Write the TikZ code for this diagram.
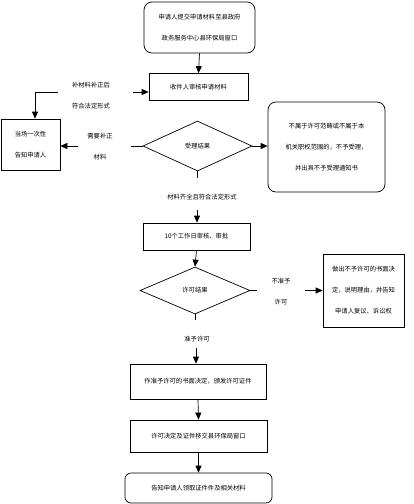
\documentclass[tikz,border=0pt]{standalone}
\usepackage{fontspec}
\newfontfamily\cjk{Noto Sans CJK SC}
\usetikzlibrary{shapes.geometric,arrows.meta}
\tikzset{
  box/.style={draw, line width=0.7pt, inner sep=0pt, align=center, font=\cjk\fontsize{6.3}{21}\selectfont},
  rbox/.style={box, rounded corners=8pt},
  dia/.style={box, diamond, aspect=2.2},
  lab/.style={inner sep=0pt, align=center, font=\cjk\fontsize{6.3}{21}\selectfont},
  conn/.style={line width=0.7pt},
  arr/.style={line width=0.7pt, -{Triangle[length=7pt,width=6pt]}}
}
\begin{document}
\begin{tikzpicture}[x=1pt,y=-1pt]
\useasboundingbox (0,0) rectangle (414,504);
\node[rbox, minimum width=111pt, minimum height=51pt] (n1) at (199.5,27.5) {申请人提交申请材料至县政府\\政务服务中心县环保局窗口};
\node[box, minimum width=99pt, minimum height=27pt] (n2) at (198.5,87) {收件人审核申请材料};
\node[dia, minimum width=109pt, minimum height=50pt] (d1) at (197.5,146) {受理结果};
\node[box, minimum width=59pt, minimum height=51pt] (nt) at (30.5,144.5) {当场一次性\\告知申请人};
\node[rbox, minimum width=117pt, minimum height=90pt] (r1) at (326.5,147) {不属于许可范畴或不属于本\\机关职权范围的，不予受理，\\并出具不予受理通知书};
\node[box, minimum width=107pt, minimum height=27pt] (b3) at (196.5,236.5) {10个工作日审核、审批};
\node[dia, minimum width=110pt, minimum height=47pt] (d2) at (195,290.5) {许可结果};
\node[box, minimum width=81pt, minimum height=73pt] (r2) at (363.5,290.5) {做出不予许可的书面决\\定，说明理由，并告知\\申请人复议、诉讼权};
\node[box, minimum width=136pt, minimum height=35pt] (b4) at (198,381.5) {作准予许可的书面决定，颁发许可证件};
\node[box, minimum width=137pt, minimum height=32pt] (b5) at (198.5,436) {许可决定及证件移交县环保局窗口};
\node[rbox, rounded corners=6pt, minimum width=147pt, minimum height=30pt] (b6) at (198.5,488) {告知申请人领取证件件及相关材料};

\node[lab] (l1) at (91,96) {补材料补正后\\符合法定形式};
\node[lab] (l2) at (100,146.5) {需要补正\\材料};
\node[lab] (l3) at (202,197) {材料齐全且符合法定形式};
\node[lab] (l4) at (281,292) {不准予\\许可};
\node[lab] (l5) at (197,339) {准予许可};

\coordinate (c1a) at (58,92);
\coordinate (c1b) at (35,92);
\coordinate (c1c) at (133,92);
\coordinate (c2a) at (131,146);
\coordinate (c2b) at (78,146);
\coordinate (c3a) at (197.5,178);
\coordinate (c3b) at (197,210);
\coordinate (c4a) at (257,290.5);
\coordinate (c4b) at (305,290.5);
\coordinate (c5a) at (195,320);
\coordinate (c5b) at (196,348);

\draw[arr] (n1.south) -- (n2.north);
\draw[conn] (c1a) -- (c1b);
\draw[arr] (c1b) -- (c1b |- nt.north);
\draw[arr] (c1c) -- (n2.west |- c1c);
\draw[conn] (d1.west) -- (c2a);
\draw[arr] (c2b) -- (nt.east |- c2b);
\draw[arr] (d1.east) -- (r1.west |- d1.east);
\draw[conn] (d1.south) -- (c3a);
\draw[arr] (c3b) -- (c3b |- b3.north);
\draw[arr] (b3.south) -- (d2.north);
\draw[conn] (d2.east) -- (c4a);
\draw[arr] (c4b) -- (r2.west);
\draw[conn] (d2.south) -- (c5a);
\draw[arr] (c5b) -- (c5b |- b4.north);
\draw[arr] (b4.south) -- (b5.north);
\draw[arr] (b5.south) -- (b6.north);
\end{tikzpicture}
\end{document}
